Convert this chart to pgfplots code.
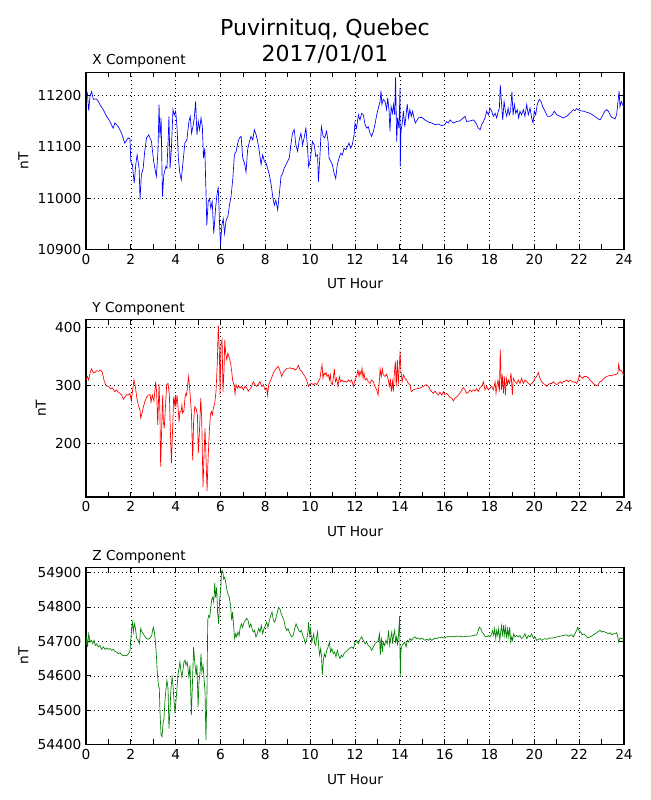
\documentclass[border=0pt]{standalone}
\usepackage{fontspec}
\setmainfont{DejaVu Sans}
\usepackage{pgfplots}
\pgfplotsset{compat=1.18}
\definecolor{mplgreen}{RGB}{0,128,0}
\pgfplotsset{
  magstyle/.style={
    scale only axis, width=403.5pt, height=133pt,
    xmin=0, xmax=24, xtick={0,2,...,24}, minor xtick={1,3,...,23},
    tick align=inside, xtick pos=both, ytick pos=both,
    major tick length=4pt, minor tick length=4pt,
    every tick/.style={black, line width=0.6pt},
    grid=major,
    major grid style={black, line width=0.4pt, dash pattern=on 0.8pt off 2.2pt},
    axis line style={line width=0.8pt},
    scaled ticks=false,
    /pgf/number format/assume math mode=true,
    /pgf/number format/1000 sep={},
    /pgf/number format/fixed,
    /pgf/number format/precision=0,
    ticklabel style={font=\fontsize{10.3}{12}\selectfont},
    label style={font=\fontsize{10.3}{12}\selectfont},
    xlabel={UT Hour}, ylabel={nT},
    xlabel style={at={(axis description cs:0.5,0)}, anchor=base, yshift=-29.5pt, inner sep=0pt},
    every axis title shift=0pt,
    title style={at={(axis description cs:0,1)}, anchor=base west, xshift=4.5pt, yshift=5.5pt, inner sep=0pt, font=\fontsize{10.3}{12}\selectfont},
  }
}
\begin{document}
\begin{tikzpicture}
\path[use as bounding box] (0,0) rectangle (487.5pt,-600pt);
\node[anchor=base, font=\fontsize{16.5}{19}\selectfont] at (243.75pt,-26.25pt) {Puvirnituq, Quebec};
\node[anchor=base, font=\fontsize{16.5}{19}\selectfont] at (243.75pt,-45.75pt) {2017/01/01};

\begin{axis}[magstyle, at={(64.5pt,-187.1pt)}, anchor=south west,
  ymin=10900, ymax=11245, ytick={10900,11000,11100,11200}, title={X Component}]
\addplot[blue, line width=0.5pt] coordinates {
(0.00,11201)(0.06,11205)(0.12,11170)(0.18,11198)(0.25,11207)(0.33,11192)(0.47,11193)(0.55,11188)(0.62,11182)(0.77,11172)(0.92,11159)(1.07,11149)(1.21,11136)(1.29,11146)(1.44,11139)(1.59,11126)(1.73,11107)(1.88,11117)(1.96,11115)(2.00,11071)(2.07,11065)(2.15,11029)(2.22,11065)(2.28,11084)(2.37,11058)(2.41,10997)(2.47,11045)(2.55,11058)(2.62,11091)(2.70,11117)(2.80,11123)(2.92,11110)(3.02,11071)(3.14,11042)(3.21,11091)(3.26,11182)(3.30,11117)(3.35,11156)(3.41,11003)(3.47,11045)(3.56,11061)(3.61,11058)(3.67,11117)(3.70,11159)(3.75,11058)(3.81,11097)(3.88,11172)(3.94,11162)(4.00,11169)(4.06,11139)(4.12,11078)(4.18,11051)(4.25,11035)(4.33,11071)(4.41,11107)(4.50,11113)(4.59,11149)(4.65,11159)(4.71,11126)(4.77,11139)(4.83,11156)(4.89,11188)(4.95,11123)(5.01,11149)(5.07,11133)(5.13,11156)(5.19,11139)(5.24,11078)(5.30,11097)(5.36,10999)(5.39,10947)(5.45,10993)(5.51,10999)(5.57,10980)(5.63,10993)(5.70,10931)(5.78,10980)(5.84,11006)(5.90,11022)(5.96,10947)(6.00,10908)(6.06,10947)(6.12,10960)(6.18,10931)(6.25,10957)(6.33,10964)(6.40,10986)(6.47,11003)(6.55,11038)(6.62,11084)(6.70,11091)(6.77,11107)(6.84,11117)(6.92,11120)(6.99,11078)(7.07,11068)(7.14,11051)(7.21,11094)(7.29,11110)(7.36,11120)(7.44,11113)(7.51,11133)(7.59,11123)(7.66,11110)(7.73,11091)(7.81,11065)(7.88,11084)(7.96,11071)(8.03,11068)(8.10,11058)(8.18,11045)(8.25,11029)(8.33,11003)(8.40,10986)(8.47,10996)(8.55,10977)(8.62,11006)(8.70,11042)(8.77,11048)(8.84,11058)(8.92,11065)(8.99,11071)(9.07,11078)(9.14,11104)(9.21,11126)(9.29,11133)(9.36,11104)(9.44,11091)(9.51,11113)(9.59,11126)(9.66,11104)(9.73,11117)(9.81,11136)(9.88,11100)(9.93,11061)(9.99,11071)(10.04,11087)(10.10,11110)(10.18,11104)(10.25,11081)(10.33,11084)(10.37,11032)(10.43,11078)(10.50,11139)(10.58,11120)(10.65,11117)(10.73,11130)(10.80,11110)(10.84,11078)(10.92,11071)(10.99,11065)(11.07,11048)(11.14,11038)(11.21,11065)(11.29,11078)(11.36,11087)(11.44,11084)(11.51,11097)(11.59,11094)(11.66,11100)(11.73,11107)(11.81,11097)(11.88,11104)(11.96,11123)
(12.00,11146)(12.07,11136)(12.15,11162)(12.22,11152)(12.30,11165)(12.37,11162)(12.45,11143)(12.52,11136)(12.59,11139)(12.67,11126)(12.74,11120)(12.82,11130)(12.89,11143)(12.97,11162)(13.04,11175)(13.12,11188)(13.16,11209)(13.20,11182)(13.26,11192)(13.34,11188)(13.41,11172)(13.46,11195)(13.52,11169)(13.56,11130)(13.61,11178)(13.67,11165)(13.72,11182)(13.77,11162)(13.81,11235)(13.86,11110)(13.90,11156)(13.96,11136)(14.01,11214)(14.02,11061)(14.05,11130)(14.10,11143)(14.16,11169)(14.22,11139)(14.28,11162)(14.33,11183)(14.39,11156)(14.45,11172)(14.51,11159)(14.57,11169)(14.63,11156)(14.69,11146)(14.83,11156)(14.97,11157)(15.12,11152)(15.27,11148)(15.42,11146)(15.57,11143)(15.72,11144)(15.87,11141)(16.01,11143)(16.09,11149)(16.16,11146)(16.24,11152)(16.39,11146)(16.54,11149)(16.68,11150)(16.83,11156)(16.91,11159)(16.98,11149)(17.13,11150)(17.28,11152)(17.35,11149)(17.43,11143)(17.50,11136)(17.58,11133)(17.65,11143)(17.73,11149)(17.80,11156)(17.87,11169)(17.95,11162)(18.02,11175)(18.10,11169)(18.17,11159)(18.25,11165)(18.32,11156)(18.39,11169)(18.44,11175)(18.48,11220)(18.54,11182)(18.59,11152)(18.65,11188)(18.71,11169)(18.77,11159)(18.83,11175)(18.88,11162)(18.94,11169)(19.00,11207)(19.05,11162)(19.11,11182)(19.17,11165)(19.24,11172)(19.30,11156)(19.36,11169)(19.43,11162)(19.51,11172)(19.58,11159)(19.66,11182)(19.73,11162)(19.81,11175)(19.88,11156)(19.94,11146)(20.00,11169)(20.06,11162)(20.13,11182)(20.22,11192)(20.30,11188)(20.37,11178)(20.48,11169)(20.58,11159)(20.70,11159)(20.80,11162)(20.89,11169)(21.00,11162)(21.15,11159)(21.29,11156)(21.44,11159)(21.59,11165)(21.67,11169)(21.74,11172)(21.81,11170)(21.89,11174)(22.04,11170)(22.19,11169)(22.33,11167)(22.48,11165)(22.63,11161)(22.78,11156)(22.93,11152)(23.00,11157)(23.08,11164)(23.15,11169)(23.23,11172)(23.30,11169)(23.38,11162)(23.45,11157)(23.52,11156)(23.60,11154)(23.67,11162)(23.75,11195)(23.78,11208)(23.82,11178)(23.88,11188)(23.94,11182)(24.00,11175)
};
\end{axis}

\begin{axis}[magstyle, at={(64.5pt,-372.75pt)}, anchor=south west,
  ymin=108, ymax=412.6, ytick={200,300,400}, title={Y Component}]
\addplot[red, line width=0.5pt] coordinates {
(0.00,309)(0.06,315)(0.12,309)(0.18,321)(0.25,328)(0.33,321)(0.40,322)(0.48,325)(0.55,324)(0.65,326)(0.73,322)(0.80,309)(0.89,299)(1.00,298)(1.10,294)(1.19,295)(1.28,289)(1.37,292)(1.44,288)(1.52,286)(1.59,283)(1.67,276)(1.74,280)(1.81,284)(1.89,283)(1.96,286)(2.02,273)(2.08,292)(2.14,309)(2.20,298)(2.26,280)(2.33,266)(2.41,257)(2.44,244)(2.50,252)(2.56,263)(2.63,272)(2.71,280)(2.78,283)(2.86,284)(2.90,271)(2.96,283)(3.03,273)(3.11,306)(3.15,289)(3.20,232)(3.26,302)(3.30,249)(3.33,160)(3.38,232)(3.42,283)(3.45,237)(3.49,226)(3.54,260)(3.60,301)(3.66,303)(3.72,283)(3.76,226)(3.81,166)(3.87,232)(3.91,280)(3.96,266)(3.99,283)(4.01,263)(4.06,283)(4.10,266)(4.15,237)(4.19,255)(4.24,255)(4.28,266)(4.31,252)(4.37,257)(4.42,280)(4.46,286)(4.49,283)(4.54,303)(4.58,315)(4.64,286)(4.70,255)(4.76,171)(4.80,237)(4.85,263)(4.91,260)(4.97,249)(5.01,183)(5.06,220)(5.12,278)(5.16,243)(5.22,125)(5.26,174)(5.31,226)(5.35,180)(5.40,118)(5.44,168)(5.50,220)(5.55,249)(5.59,255)(5.64,249)(5.68,260)(5.74,269)(5.80,289)(5.86,341)(5.90,403)(5.95,358)(5.98,284)(6.02,370)(6.07,378)(6.11,289)(6.16,329)(6.19,378)(6.23,355)(6.28,344)(6.33,355)(6.39,347)(6.45,338)(6.50,324)(6.54,309)(6.60,301)(6.65,285)(6.69,301)(6.75,295)(6.81,299)(6.87,295)(6.94,298)(7.02,292)(7.09,298)(7.17,295)(7.24,290)(7.32,294)(7.39,298)(7.46,306)(7.54,301)(7.61,298)(7.69,302)(7.76,306)(7.84,298)(7.91,301)(7.99,292)(8.06,295)(8.10,283)(8.15,301)(8.21,306)(8.28,313)(8.36,321)(8.43,326)(8.51,330)(8.58,332)(8.65,325)(8.73,315)(8.80,322)(8.88,326)(8.95,329)(9.03,329)(9.10,330)(9.17,328)(9.25,329)(9.32,326)(9.40,328)(9.47,334)(9.55,326)(9.62,324)(9.70,319)(9.77,315)(9.84,309)(9.92,298)(9.99,302)(10.07,303)(10.14,301)(10.22,303)(10.29,301)(10.36,306)(10.44,312)(10.48,324)(10.53,335)(10.57,312)(10.62,321)(10.66,318)(10.71,322)(10.75,315)(10.81,318)(10.86,309)(10.90,318)(10.94,303)(10.99,301)(11.03,312)(11.08,328)(11.12,306)(11.18,312)(11.24,298)(11.30,315)(11.36,306)(11.42,309)(11.48,306)(11.55,307)(11.63,305)(11.70,309)(11.78,306)(11.85,309)(11.93,298)
(12.00,309)(12.07,315)(12.13,326)(12.18,315)(12.22,324)(12.27,318)(12.31,329)(12.36,312)(12.40,321)(12.45,309)(12.52,312)(12.59,306)(12.67,303)(12.74,309)(12.82,306)(12.89,298)(12.97,292)(13.03,283)(13.09,309)(13.12,328)(13.17,315)(13.22,328)(13.26,318)(13.34,315)(13.41,319)(13.49,309)(13.53,298)(13.58,309)(13.62,289)(13.67,306)(13.71,289)(13.75,318)(13.80,341)(13.84,298)(13.89,344)(13.93,301)(13.98,335)(14.01,358)(14.05,324)(14.10,306)(14.16,318)(14.23,312)(14.30,309)(14.38,303)(14.45,301)(14.51,289)(14.60,292)(14.75,294)(14.90,295)(15.05,298)(15.17,301)(15.27,298)(15.35,292)(15.42,289)(15.49,286)(15.57,290)(15.64,286)(15.72,283)(15.79,288)(15.87,283)(15.94,289)(16.01,284)(16.09,286)(16.16,283)(16.24,279)(16.31,278)(16.39,273)(16.46,278)(16.54,280)(16.61,283)(16.68,286)(16.76,292)(16.83,296)(16.91,292)(16.98,286)(17.06,288)(17.13,292)(17.20,289)(17.28,292)(17.35,290)(17.43,294)(17.50,289)(17.58,296)(17.65,298)(17.73,306)(17.80,292)(17.87,298)(17.95,292)(18.02,295)(18.10,298)(18.17,292)(18.25,306)(18.29,286)(18.34,301)(18.38,309)(18.44,289)(18.48,361)(18.53,292)(18.57,318)(18.62,286)(18.66,315)(18.71,283)(18.75,312)(18.80,301)(18.84,309)(18.90,303)(18.96,321)(19.02,283)(19.06,312)(19.14,306)(19.21,303)(19.29,309)(19.36,303)(19.43,312)(19.51,303)(19.58,309)(19.66,306)(19.73,303)(19.81,301)(19.88,303)(19.96,306)(20.03,312)(20.10,315)(20.18,322)(20.25,312)(20.33,306)(20.40,303)(20.48,301)(20.55,298)(20.62,301)(20.70,303)(20.77,303)(20.85,306)(20.92,303)(21.00,301)(21.07,303)(21.15,306)(21.22,303)(21.29,306)(21.37,307)(21.44,309)(21.52,306)(21.59,309)(21.67,307)(21.74,305)(21.81,306)(21.89,303)(21.96,309)(22.01,318)(22.07,315)(22.14,312)(22.22,315)(22.31,315)(22.41,313)(22.48,309)(22.56,306)(22.63,303)(22.71,301)(22.78,299)(22.86,302)(22.93,306)(23.00,307)(23.08,311)(23.15,313)(23.23,315)(23.30,316)(23.38,317)(23.45,316)(23.52,318)(23.60,318)(23.67,319)(23.73,321)(23.76,336)(23.81,325)(23.85,326)(23.90,324)(23.94,321)(24.00,315)
};
\end{axis}

\begin{axis}[magstyle, at={(64.5pt,-558.5pt)}, anchor=south west,
  ymin=54400, ymax=54915, ytick={54400,54500,54600,54700,54800,54900}, title={Z Component}]
\addplot[mplgreen, line width=0.5pt] coordinates {
(0.00,54688)(0.03,54713)(0.07,54684)(0.12,54722)(0.18,54698)(0.24,54703)(0.30,54693)(0.36,54703)(0.42,54688)(0.48,54693)(0.55,54684)(0.62,54688)(0.70,54677)(0.77,54684)(0.85,54677)(0.92,54681)(1.00,54677)(1.07,54679)(1.15,54674)(1.22,54677)(1.29,54671)(1.37,54669)(1.44,54664)(1.52,54667)(1.59,54661)(1.67,54658)(1.74,54660)(1.81,54658)(1.89,54664)(1.96,54671)(1.99,54698)(2.04,54741)(2.08,54756)(2.11,54727)(2.16,54751)(2.20,54741)(2.26,54708)(2.33,54703)(2.38,54693)(2.44,54737)(2.50,54727)(2.56,54722)(2.63,54713)(2.71,54708)(2.78,54706)(2.86,54710)(2.93,54717)(3.00,54741)(3.05,54727)(3.09,54703)(3.14,54660)(3.18,54611)(3.23,54573)(3.27,54563)(3.30,54496)(3.35,54428)(3.39,54423)(3.44,54462)(3.48,54476)(3.52,54525)(3.57,54563)(3.61,54587)(3.66,54563)(3.70,54447)(3.75,54505)(3.79,54563)(3.84,54597)(3.88,54573)(3.93,54525)(3.97,54491)(4.01,54525)(4.06,54563)(4.10,54602)(4.15,54621)(4.19,54640)(4.24,54611)(4.28,54597)(4.33,54621)(4.37,54640)(4.42,54645)(4.46,54631)(4.51,54640)(4.55,54621)(4.59,54597)(4.64,54631)(4.70,54486)(4.76,54602)(4.80,54684)(4.85,54640)(4.91,54602)(4.95,54631)(5.00,54510)(5.04,54582)(5.09,54611)(5.13,54664)(5.17,54611)(5.22,54631)(5.26,54597)(5.31,54553)(5.35,54414)(5.40,54563)(5.43,54761)(5.47,54775)(5.52,54770)(5.56,54794)(5.61,54823)(5.65,54828)(5.70,54814)(5.74,54870)(5.78,54828)(5.83,54857)(5.87,54785)(5.92,54751)(5.96,54819)(6.01,54852)(6.05,54905)(6.10,54905)(6.14,54881)(6.19,54886)(6.23,54872)(6.28,54852)(6.33,54838)(6.39,54828)(6.45,54804)(6.50,54761)(6.54,54785)(6.59,54741)(6.63,54708)(6.68,54722)(6.72,54713)(6.78,54727)(6.83,54717)(6.87,54737)(6.93,54751)(6.99,54741)(7.05,54756)(7.11,54761)(7.17,54767)(7.23,54761)(7.29,54741)(7.35,54751)(7.41,54737)(7.46,54727)(7.52,54732)(7.58,54713)(7.64,54722)(7.70,54737)(7.76,54727)(7.82,54746)(7.88,54722)(7.94,54737)(8.00,54746)(8.06,54756)(8.12,54741)(8.18,54761)(8.24,54775)(8.30,54785)(8.36,54761)(8.42,54756)(8.48,54770)(8.54,54785)(8.59,54799)(8.65,54794)(8.71,54780)(8.77,54770)(8.83,54761)(8.89,54741)(8.95,54732)(9.01,54737)(9.07,54727)(9.13,54717)(9.19,54713)(9.25,54719)(9.31,54737)(9.37,54751)(9.43,54741)(9.49,54732)(9.55,54727)(9.61,54732)(9.67,54717)(9.73,54708)(9.78,54693)(9.84,54703)(9.90,54727)(9.93,54756)(9.98,54717)(10.02,54737)(10.07,54698)(10.11,54708)(10.16,54722)(10.20,54693)(10.25,54688)(10.29,54713)(10.33,54727)(10.38,54684)(10.42,54660)(10.47,54679)(10.51,54655)(10.54,54602)(10.59,54645)(10.63,54664)(10.68,54655)(10.74,54674)(10.80,54684)(10.86,54698)(10.91,54669)(10.97,54679)(11.03,54664)(11.09,54669)(11.15,54655)(11.21,54674)(11.27,54660)(11.33,54650)(11.39,54660)(11.45,54655)(11.51,54664)(11.57,54669)(11.63,54671)(11.70,54677)(11.78,54681)(11.85,54684)(11.93,54679)
(12.00,54698)(12.07,54703)(12.15,54693)(12.22,54706)(12.30,54713)(12.37,54703)(12.45,54693)(12.52,54698)(12.59,54688)(12.67,54684)(12.74,54674)(12.82,54684)(12.89,54693)(12.97,54698)(13.04,54703)(13.09,54722)(13.13,54660)(13.17,54713)(13.22,54669)(13.26,54698)(13.32,54688)(13.38,54703)(13.44,54693)(13.50,54732)(13.55,54688)(13.59,54708)(13.64,54727)(13.68,54693)(13.72,54717)(13.77,54732)(13.81,54698)(13.86,54713)(13.90,54688)(13.95,54727)(13.99,54773)(14.02,54597)(14.05,54674)(14.10,54688)(14.16,54693)(14.22,54698)(14.28,54684)(14.33,54703)(14.39,54698)(14.45,54708)(14.53,54703)(14.60,54710)(14.68,54713)(14.75,54708)(14.83,54710)(14.90,54706)(14.97,54710)(15.05,54706)(15.12,54703)(15.20,54706)(15.27,54703)(15.35,54708)(15.42,54703)(15.49,54706)(15.57,54710)(15.64,54708)(15.72,54711)(15.79,54710)(15.87,54713)(15.94,54710)(16.01,54710)(16.09,54713)(16.16,54714)(16.24,54713)(16.31,54715)(16.39,54713)(16.54,54715)(16.68,54715)(16.83,54713)(16.98,54715)(17.13,54715)(17.28,54717)(17.43,54719)(17.50,54732)(17.55,54741)(17.61,54737)(17.67,54727)(17.73,54722)(17.80,54715)(17.87,54713)(17.95,54717)(18.02,54713)(18.10,54722)(18.14,54732)(18.19,54717)(18.23,54737)(18.28,54708)(18.32,54732)(18.37,54717)(18.41,54737)(18.46,54703)(18.50,54727)(18.54,54746)(18.59,54713)(18.63,54748)(18.68,54717)(18.72,54741)(18.77,54708)(18.81,54737)(18.86,54713)(18.90,54741)(18.95,54698)(18.99,54713)(19.03,54703)(19.08,54722)(19.14,54713)(19.21,54717)(19.29,54713)(19.36,54717)(19.43,54708)(19.51,54713)(19.58,54722)(19.66,54708)(19.73,54717)(19.81,54713)(19.88,54722)(19.96,54708)(20.03,54713)(20.10,54703)(20.18,54706)(20.25,54708)(20.33,54703)(20.40,54706)(20.48,54708)(20.55,54706)(20.62,54708)(20.70,54710)(20.85,54710)(21.00,54713)(21.15,54715)(21.29,54717)(21.44,54719)(21.52,54715)(21.59,54717)(21.67,54719)(21.74,54713)(21.81,54722)(21.89,54732)(21.93,54741)(21.99,54732)(22.07,54727)(22.14,54719)(22.22,54722)(22.31,54715)(22.39,54710)(22.48,54713)(22.56,54715)(22.63,54719)(22.71,54722)(22.78,54725)(22.86,54729)(22.93,54732)(23.00,54727)(23.08,54729)(23.15,54727)(23.23,54725)(23.30,54722)(23.38,54725)(23.45,54719)(23.52,54722)(23.60,54722)(23.67,54725)(23.71,54717)(23.76,54698)(23.82,54710)(23.90,54708)(24.00,54710)
};
\end{axis}
\end{tikzpicture}
\end{document}
